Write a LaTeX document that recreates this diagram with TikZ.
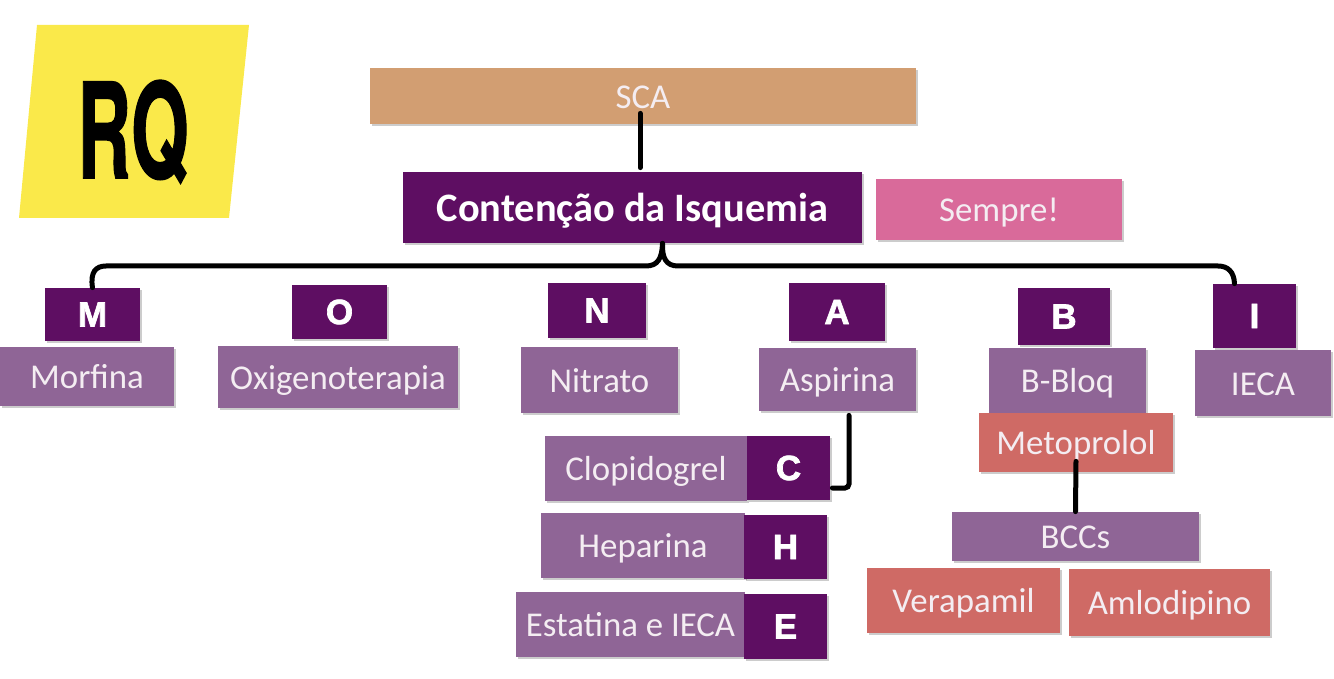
\documentclass[tikz,border=0pt]{standalone}
\usepackage{fontspec}
\usepackage{graphicx}
\setmainfont{Carlito}
\newfontfamily\letterfont[FakeBold=2]{Liberation Sans Bold}
\newfontfamily\rqfont[FakeBold=1.2]{TeX Gyre Heros Bold}
\usetikzlibrary{shadows}
\definecolor{tanbox}{HTML}{D29E72}
\definecolor{darkpurple}{HTML}{5E0E62}
\definecolor{midpurple}{HTML}{8F6596}
\definecolor{salmonbox}{HTML}{CF6A65}
\definecolor{pinkbox}{HTML}{D96A9A}
\definecolor{rqyellow}{HTML}{FAE94A}
\definecolor{labeltext}{HTML}{F4EDF2}
\tikzset{
  x=0.5pt,y=-0.5pt,
  boxbase/.style={inner sep=0pt,text=labeltext,align=center,
    drop shadow={shadow xshift=1pt,shadow yshift=-1pt,opacity=.2,fill=black}},
  labelfont/.style={font=\fontsize{17.4}{20}\selectfont,text height=12.4pt,text depth=0pt},
  tanstyle/.style={boxbase,labelfont,fill=tanbox},
  headstyle/.style={boxbase,fill=darkpurple,text=white,font=\fontsize{20.2}{23}\selectfont\bfseries,text height=14.5pt,text depth=0pt},
  pinkstyle/.style={boxbase,labelfont,fill=pinkbox},
  letterstyle/.style={boxbase,fill=darkpurple,text=white,font=\fontsize{17.5}{20}\letterfont},
  purplestyle/.style={boxbase,labelfont,fill=midpurple},
  salmonstyle/.style={boxbase,labelfont,fill=salmonbox},
  link/.style={draw=black,line width=2.5pt,line cap=round},
}
\newcommand{\bx}[7]{%
  \pgfmathsetmacro{\bxw}{(#4-#2)*0.5}%
  \pgfmathsetmacro{\bxh}{(#5-#3)*0.5}%
  \pgfmathsetmacro{\bxcx}{(#2+#4)/2}%
  \pgfmathsetmacro{\bxcy}{(#3+#5)/2}%
  \node[#6,minimum width=\bxw pt,minimum height=\bxh pt] (#1) at (\bxcx,\bxcy) {#7};%
}
\begin{document}
\begin{tikzpicture}
\useasboundingbox (0,0) rectangle (1334,679);
\fill[rqyellow] (37,25) -- (249,25) -- (229,218) -- (19,218) -- cycle;
\node[inner sep=0pt,text=black] (rq) at (133,132) {\scalebox{0.64}[1.14]{\rqfont\fontsize{58}{60}\selectfont RQ}};

\bx{sca}{370}{68}{916}{124}{tanstyle}{SCA}
\bx{cont}{403}{172}{862}{243}{headstyle}{Contenção da Isquemia}
\bx{sempre}{876}{179}{1122}{240}{pinkstyle}{Sempre!}

\bx{morfina}{0}{347}{174}{406}{purplestyle}{Morfina}
\bx{oxi}{218}{346}{458}{408}{purplestyle}{Oxigenoterapia}
\bx{nitrato}{521}{347}{678}{413}{purplestyle}{Nitrato}
\bx{aspirina}{759}{348}{916}{411}{purplestyle}{Aspirina}
\bx{bbloq}{989}{348}{1146}{413}{purplestyle}{B-Bloq}
\bx{ieca}{1195}{350}{1331}{416}{purplestyle}{IECA}

\bx{m}{45}{288}{140}{341}{letterstyle}{M}
\bx{o}{292}{285}{387}{339}{letterstyle}{O}
\bx{n}{548}{283}{646}{338}{letterstyle}{N}
\bx{a}{789}{283}{885}{341}{letterstyle}{A}
\bx{b}{1018}{288}{1110}{345}{letterstyle}{B}
\bx{i}{1213}{284}{1296}{348}{letterstyle}{I}

\bx{clop}{545}{436}{747}{501}{purplestyle}{Clopidogrel}
\bx{c}{747}{436}{830}{500}{letterstyle}{C}
\bx{hep}{541}{513}{745}{578}{purplestyle}{Heparina}
\bx{h}{744}{515}{827}{579}{letterstyle}{H}
\bx{est}{516}{592}{745}{657}{purplestyle}{Estatina e IECA}
\bx{e}{744}{594}{827}{659}{letterstyle}{E}

\bx{meto}{979}{413}{1173}{472}{salmonstyle}{Metoprolol}
\bx{bccs}{952}{512}{1199}{561}{purplestyle}{BCCs}
\bx{vera}{867}{568}{1060}{633}{salmonstyle}{Verapamil}
\bx{amlo}{1069}{569}{1270}{636}{salmonstyle}{Amlodipino}

% connectors
\draw[link] ([xshift=-1.5pt,yshift=5.5pt]sca.south) -- ([xshift=-1.5pt,yshift=2pt]sca.south |- cont.north);
\draw[link] ([xshift=15pt]cont.south) .. controls (662,258) and (658,266) .. (646,266) -- (106,266)
   .. controls (96,266) and (90,272) .. (m.north);
\draw[link] ([xshift=15pt]cont.south) .. controls (662,258) and (666,266) .. (678,266) -- (1218,266)
   .. controls (1228,266) and (1234,272) .. ([xshift=-10pt]i.north);
\draw[link,rounded corners=2pt] ([xshift=5.75pt,yshift=-2pt]aspirina.south) |- ([xshift=1pt,yshift=-10pt]c.east);
\draw[link] ([yshift=5.5pt]meto.south) -- (bccs.north);
\end{tikzpicture}
\end{document}
